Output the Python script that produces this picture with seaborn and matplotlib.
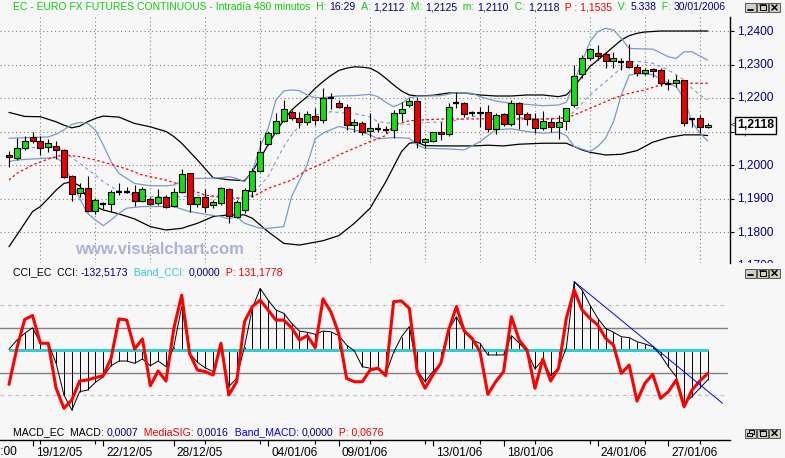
import numpy as np
import matplotlib
matplotlib.use("Agg")
import matplotlib.pyplot as plt
import seaborn as sns
from matplotlib.patches import Rectangle
from matplotlib.transforms import ScaledTranslation

# ---- candles (EC 480 min bars, 16/12/05 .. 30/01/06) ----
opens = [1.2030, 1.2022, 1.2050, 1.2085, 1.2073, 1.2053, 1.2058, 1.2045, 1.1966, 1.1915,
         1.1930, 1.1863, 1.1885, 1.1883, 1.1920, 1.1920, 1.1920, 1.1893, 1.1899, 1.1886,
         1.1904, 1.1879, 1.1918, 1.1975, 1.1883, 1.1904, 1.1881, 1.1886, 1.1928, 1.1846,
         1.1866, 1.1922, 1.1982, 1.2062, 1.2095, 1.2131, 1.2157, 1.2139, 1.2127, 1.2146,
         1.2133, 1.2199, 1.2184, 1.2172, 1.2119, 1.2124, 1.2102, 1.2107, 1.2105, 1.2105,
         1.2154, 1.2179, 1.2192, 1.2070, 1.2073, 1.2098, 1.2092, 1.2186, 1.2184, 1.2154,
         1.2154, 1.2159, 1.2108, 1.2151, 1.2121, 1.2184, 1.2152, 1.2137, 1.2109, 1.2127,
         1.2114, 1.2131, 1.2179, 1.2271, 1.2318, 1.2333, 1.2330, 1.2310, 1.2308, 1.2310,
         1.2292, 1.2274, 1.2287, 1.2284, 1.2241, 1.2244, 1.2254, 1.2137, 1.2139, 1.2112]
highs = [1.2042, 1.2081, 1.2087, 1.2100, 1.2088, 1.2078, 1.2072, 1.2047, 1.1970, 1.1945,
         1.1967, 1.1901, 1.1889, 1.1926, 1.1947, 1.1935, 1.1940, 1.1935, 1.1904, 1.1928,
         1.1910, 1.1930, 1.1987, 1.1977, 1.1905, 1.1928, 1.1895, 1.1935, 1.1932, 1.1895,
         1.1931, 1.1990, 1.2075, 1.2102, 1.2155, 1.2194, 1.2164, 1.2159, 1.2161, 1.2171,
         1.2231, 1.2214, 1.2194, 1.2181, 1.2137, 1.2131, 1.2154, 1.2126, 1.2117, 1.2164,
         1.2187, 1.2199, 1.2204, 1.2082, 1.2100, 1.2127, 1.2184, 1.2217, 1.2189, 1.2161,
         1.2174, 1.2179, 1.2154, 1.2154, 1.2194, 1.2187, 1.2159, 1.2154, 1.2162, 1.2141,
         1.2149, 1.2171, 1.2299, 1.2328, 1.2348, 1.2358, 1.2338, 1.2338, 1.2318, 1.2360,
         1.2302, 1.2289, 1.2291, 1.2289, 1.2257, 1.2269, 1.2254, 1.2139, 1.2149, 1.2125]
lows = [1.1995, 1.2015, 1.2045, 1.2065, 1.2030, 1.2038, 1.2018, 1.1960, 1.1894, 1.1905,
        1.1859, 1.1854, 1.1869, 1.1861, 1.1910, 1.1915, 1.1879, 1.1891, 1.1881, 1.1881,
        1.1873, 1.1876, 1.1915, 1.1859, 1.1876, 1.1861, 1.1871, 1.1881, 1.1826, 1.1841,
        1.1857, 1.1905, 1.1980, 1.2060, 1.2093, 1.2127, 1.2134, 1.2109, 1.2119, 1.2119,
        1.2124, 1.2167, 1.2169, 1.2104, 1.2100, 1.2090, 1.2085, 1.2098, 1.2095, 1.2082,
        1.2131, 1.2174, 1.2050, 1.2050, 1.2070, 1.2075, 1.2088, 1.2171, 1.2144, 1.2147,
        1.2114, 1.2098, 1.2092, 1.2117, 1.2117, 1.2107, 1.2119, 1.2095, 1.2104, 1.2098,
        1.2078, 1.2104, 1.2174, 1.2259, 1.2313, 1.2313, 1.2291, 1.2291, 1.2284, 1.2289,
        1.2267, 1.2269, 1.2264, 1.2237, 1.2224, 1.2234, 1.2117, 1.2114, 1.2095, 1.2110]
closes = [1.2024, 1.2050, 1.2073, 1.2073, 1.2050, 1.2065, 1.2045, 1.1965, 1.1912, 1.1930,
          1.1863, 1.1895, 1.1885, 1.1919, 1.1920, 1.1920, 1.1893, 1.1927, 1.1884, 1.1904,
          1.1876, 1.1920, 1.1972, 1.1884, 1.1904, 1.1876, 1.1889, 1.1930, 1.1848, 1.1889,
          1.1925, 1.1982, 1.2040, 1.2095, 1.2130, 1.2166, 1.2139, 1.2127, 1.2153, 1.2133,
          1.2199, 1.2199, 1.2172, 1.2119, 1.2127, 1.2098, 1.2110, 1.2107, 1.2105, 1.2154,
          1.2166, 1.2192, 1.2070, 1.2077, 1.2098, 1.2092, 1.2174, 1.2186, 1.2152, 1.2154,
          1.2159, 1.2108, 1.2149, 1.2121, 1.2184, 1.2151, 1.2136, 1.2109, 1.2132, 1.2114,
          1.2129, 1.2169, 1.2267, 1.2318, 1.2345, 1.2326, 1.2310, 1.2318, 1.2308, 1.2292,
          1.2274, 1.2284, 1.2281, 1.2244, 1.2241, 1.2253, 1.2124, 1.2137, 1.2112, 1.2118]

# ---- overlay bands, read at bar indices ----
ub_x = [0, 2, 4, 6, 7, 8, 9, 10, 11, 12, 14, 16, 18, 20, 21, 22, 24, 26, 28, 30,
        31, 32, 33, 34, 35, 36, 37, 38, 39, 40, 41, 42, 43, 44, 45, 46, 47, 48, 49, 50, 51, 52,
        54, 56, 58, 60, 62, 64, 66, 68, 70, 71, 72, 73, 74, 75, 76, 77, 78, 79, 80, 81, 83, 86, 89]
ub_y = [1.2157, 1.2145, 1.2144, 1.2129, 1.2119, 1.2111, 1.2116, 1.2129, 1.2139, 1.2146,
        1.2143, 1.2124, 1.2114, 1.2100, 1.2085, 1.2065, 1.2015, 1.1962, 1.1956, 1.1953,
        1.1980, 1.2020, 1.2060, 1.2100, 1.2134, 1.2164, 1.2185, 1.2204, 1.2229, 1.2249, 1.2267,
        1.2282, 1.2289, 1.2293, 1.2292, 1.2289, 1.2277, 1.2259, 1.2239, 1.2221, 1.2209, 1.2206,
        1.2208, 1.2215, 1.2215, 1.2209, 1.2206, 1.2206, 1.2209, 1.2209, 1.2204,
        1.2209, 1.2234, 1.2264, 1.2294, 1.2313, 1.2333, 1.2353, 1.2373, 1.2386, 1.2393, 1.2397,
        1.2400, 1.2400, 1.2400]
lb_x = [0, 1, 2, 3, 4, 5, 6, 7, 8, 9, 10, 11, 12, 14, 16, 18, 20, 22, 24, 26, 28, 30,
        31, 33, 35, 37, 40, 42, 44, 46, 48, 49, 50, 51, 52, 53, 55, 57, 59, 61, 63, 65, 68, 71,
        72, 73, 74, 76, 78, 80, 82, 84, 86, 88, 89]
lb_y = [1.1756, 1.1791, 1.1826, 1.1861, 1.1876, 1.1900, 1.1925, 1.1945, 1.1950, 1.1938, 1.1900,
        1.1876, 1.1866, 1.1854, 1.1839, 1.1816, 1.1806, 1.1811, 1.1826, 1.1846, 1.1851, 1.1851,
        1.1841, 1.1801, 1.1766, 1.1761, 1.1774, 1.1789, 1.1826, 1.1871, 1.1950, 1.1995, 1.2040,
        1.2065, 1.2068, 1.2058, 1.2057, 1.2057, 1.2057, 1.2059, 1.2057, 1.2062, 1.2065, 1.2065,
        1.2055, 1.2045, 1.2038, 1.2030, 1.2032, 1.2043, 1.2068, 1.2082, 1.2090, 1.2090, 1.2088]
bu_x = [0, 3, 5, 6, 7, 8, 9, 10, 11, 12, 13, 14, 15, 16, 18, 20, 21, 22, 23, 25,
        27, 28, 29, 30, 31, 32, 33, 34, 35, 36, 37, 38, 39, 40, 42, 44, 46, 47, 48, 49,
        50, 51, 52, 55, 57, 59, 60, 62, 64, 66, 68, 70, 71, 72, 73, 74, 75, 76, 77, 78,
        79, 80, 82, 84, 85, 86, 87, 89]
bu_y = [1.2080, 1.2082, 1.2084, 1.2092, 1.2105, 1.2121, 1.2127, 1.2124, 1.2105, 1.2060,
        1.2010, 1.1975, 1.1960, 1.1945, 1.1938, 1.1938, 1.1940, 1.1952, 1.1960, 1.1960,
        1.1962, 1.1965, 1.1960, 1.1950, 1.1980, 1.2055, 1.2109, 1.2194, 1.2221, 1.2224,
        1.2222, 1.2209, 1.2201, 1.2201, 1.2206, 1.2207, 1.2211, 1.2204, 1.2187, 1.2174,
        1.2184, 1.2201, 1.2205, 1.2207, 1.2216, 1.2214, 1.2204, 1.2191, 1.2184, 1.2181,
        1.2177, 1.2179, 1.2187, 1.2249, 1.2308, 1.2368, 1.2398, 1.2408, 1.2403, 1.2378,
        1.2348, 1.2347, 1.2346, 1.2323, 1.2318, 1.2338, 1.2338, 1.2313]
bl_x = [0, 1, 3, 6, 7, 8, 9, 10, 11, 12, 13, 14, 15, 17, 21, 23, 25, 27, 28, 29,
        30, 32, 33, 35, 36, 38, 39, 40, 42, 44, 46, 47, 49, 51, 52, 53, 56, 58, 60, 62,
        64, 66, 68, 70, 71, 72, 74, 75, 76, 77, 78, 79, 80, 82, 84, 85, 86, 87, 88, 89]
bl_y = [1.2010, 1.2015, 1.2018, 1.2022, 1.2005, 1.1950, 1.1900, 1.1856, 1.1836, 1.1819,
        1.1836, 1.1856, 1.1871, 1.1876, 1.1876, 1.1861, 1.1853, 1.1846, 1.1839, 1.1846,
        1.1826, 1.1811, 1.1811, 1.1816, 1.1906, 1.2002, 1.2078, 1.2095, 1.2115, 1.2105,
        1.2090, 1.2078, 1.2082, 1.2080, 1.2060, 1.2050, 1.2048, 1.2045, 1.2070, 1.2105,
        1.2108, 1.2100, 1.2095, 1.2098, 1.2088, 1.2055, 1.2040, 1.2055, 1.2080, 1.2129,
        1.2209, 1.2268, 1.2273, 1.2270, 1.2244, 1.2234, 1.2199, 1.2129, 1.2095, 1.2072]
bm_x = [0, 1, 3, 6, 7, 9, 11, 12, 14, 16, 18, 22, 24, 26, 28, 30, 31, 32, 33, 34,
        35, 36, 37, 39, 41, 42, 44, 46, 47, 49, 51, 53, 56, 58, 60, 62, 64, 66, 68, 70,
        71, 72, 73, 74, 75, 76, 77, 78, 79, 80, 82, 84, 85, 86, 87, 88, 89]
bm_y = [1.2020, 1.2045, 1.2052, 1.2055, 1.2040, 1.2005, 1.1970, 1.1950, 1.1922, 1.1910,
        1.1905, 1.1905, 1.1910, 1.1905, 1.1900, 1.1902, 1.1910, 1.1940, 1.1965, 1.2010,
        1.2055, 1.2090, 1.2117, 1.2149, 1.2159, 1.2157, 1.2153, 1.2144, 1.2129, 1.2124,
        1.2121, 1.2127, 1.2129, 1.2139, 1.2149, 1.2144, 1.2144, 1.2139, 1.2137, 1.2139,
        1.2144, 1.2159, 1.2184, 1.2209, 1.2229, 1.2249, 1.2269, 1.2289, 1.2309, 1.2309,
        1.2304, 1.2284, 1.2269, 1.2254, 1.2229, 1.2209, 1.2194]
ma_x = [0, 1, 3, 5, 6, 7, 9, 11, 13, 15, 17, 20, 22, 23, 25, 27, 28, 30, 31, 33,
        36, 38, 40, 42, 44, 46, 48, 49, 51, 53, 56, 58, 60, 62, 64, 66, 68, 71, 73, 75,
        77, 79, 81, 83, 85, 89]
ma_y = [1.1955, 1.1975, 1.2000, 1.2018, 1.2025, 1.2030, 1.2025, 1.2015, 1.2002, 1.1988,
        1.1970, 1.1955, 1.1940, 1.1928, 1.1910, 1.1905, 1.1900, 1.1902, 1.1905, 1.1930,
        1.1955, 1.1985, 1.2005, 1.2030, 1.2050, 1.2070, 1.2088, 1.2120, 1.2132, 1.2135,
        1.2138, 1.2137, 1.2138, 1.2137, 1.2137, 1.2138, 1.2137, 1.2140, 1.2159, 1.2179,
        1.2199, 1.2214, 1.2224, 1.2239, 1.2244, 1.2244]

# ---- CCI panel ----
cci = [4, 44, 74, 99, 30, 30, -59, -200, -267, -185,
       -178, -144, -119, -70, -49, -49, -59, -40, -70, -49,
       -74, 15, 193, -15, -55, -79, -96, 22, -163, -126,
       15, 185, 274, 222, 178, 163, 119, 84, 79, 70,
       84, 81, 64, 22, -4, -74, -81, -81, -107, -10,
       59, 104, -89, -141, -96, -59, 89, 148, 81, 44,
       30, -22, -22, -22, 64, 30, -7, -84, -44, -114,
       -81, 10, 304, 267, 200, 141, 96, 79, 59, 55,
       37, 27, 15, -22, -74, -119, -237, -207, -170, -133]
cci_p = [-153, 7, 136, 153, 30, 30, -170, -259, -222, -138,
         -133, -123, -114, -37, 138, 133, 4, 49, -159, -93,
         -138, 96, 244, -15, -89, -96, -111, 30, -200, -141,
         126, 193, 222, 178, 133, 133, 99, 44, 64, 10,
         227, 170, 74, -126, -141, -141, -89, -81, -114, 215,
         218, 185, -96, -170, -111, -59, 89, 193, 84, 52,
         -7, -197, -141, -96, 148, 44, 0, -170, -40, -138,
         -81, 141, 267, 178, 141, 111, 52, 22, -104, -67,
         -227, -148, -108, -215, -185, -133, -252, -178, -138, -104]
trend_x = [72, 90.9]
trend_y = [304, -237]

price_ticks = [1.17, 1.18, 1.19, 1.20, 1.21, 1.22, 1.23, 1.24]
date_idx = [3, 12, 21, 33, 42, 54, 63, 75, 84]
date_labels = ["19/12/05", "22/12/05", "28/12/05", "04/01/06", "09/01/06",
               "13/01/06", "18/01/06", "24/01/06", "27/01/06"]
minor_idx = [4, 11, 25, 32, 39, 46, 53, 60, 67, 74, 81, 88]
grid_cols = list(range(4, 90, 7))

BG = "#f7f7f7"
GREEN = "#11e011"
RED = "#ee0000"
NAVY = "#000080"
STEEL = "#7b9ac8"
CYAN = "#33cccc"
TGREEN = "#11cc11"

sns.set_theme(style="white")
plt.rcParams['font.family'] = ['Liberation Sans', 'DejaVu Sans']

W, H = 785, 458
fig = plt.figure(figsize=(W / 100, H / 100), dpi=100)
fig.patch.set_facecolor(BG)


def px_box(x0, y0, x1, y1):
    return [x0 / W, 1 - y1 / H, (x1 - x0) / W, (y1 - y0) / H]


STEP, X0 = 7.85, 9          # bar spacing / first bar, in pixels
def price_at(y):            # pixel row -> price (33.5 px per 0.01)
    return 1.24 - (y - 31) / 3350


idx = np.arange(len(closes))
o, h, l, c = map(np.array, (opens, highs, lows, closes))

# ---------------- main price panel ----------------
ax = fig.add_axes(px_box(0, 17, 730, 263))
ax.set_facecolor(BG)
ax.set_xlim(-X0 / STEP, (730 - X0) / STEP)
ax.set_ylim(price_at(263), price_at(17))
for s in ax.spines.values():
    s.set_visible(False)
ax.set_xticks([])
ax.set_yticks([])

ax.hlines(price_ticks, -X0 / STEP, (730 - X0) / STEP, color="#808080", lw=0.8,
          linestyles=(0, (1, 2.5)), zorder=1)
ax.vlines(grid_cols, price_at(263), price_at(17), color="#808080", lw=0.8,
          linestyles=(0, (1, 2.5)), zorder=1)

sns.lineplot(x=ub_x, y=ub_y, ax=ax, color="black", lw=0.9, zorder=2)
sns.lineplot(x=lb_x, y=lb_y, ax=ax, color="black", lw=0.9, zorder=2)
sns.lineplot(x=bu_x, y=bu_y, ax=ax, color=STEEL, lw=0.9, zorder=2)
sns.lineplot(x=bl_x, y=bl_y, ax=ax, color=STEEL, lw=0.9, zorder=2)
sns.lineplot(x=bm_x, y=bm_y, ax=ax, color=STEEL, lw=0.8, linestyle=(0, (3, 3)), zorder=2)
sns.lineplot(x=ma_x, y=ma_y, ax=ax, color="#ff0000", lw=0.9, linestyle=(0, (2, 2)), zorder=2)

up, down, flat = c > o, c < o, c == o
bw = 6 / STEP
ax.vlines(idx, l, h, color="black", lw=0.8, zorder=3)
ax.bar(idx[up], (c - o)[up], bottom=o[up], width=bw, color=GREEN,
       edgecolor="black", lw=0.8, zorder=4)
ax.bar(idx[down], (c - o)[down], bottom=o[down], width=bw, color=RED,
       edgecolor="black", lw=0.8, zorder=4)
ax.hlines(c[flat], idx[flat] - bw / 2, idx[flat] + bw / 2, color="black", lw=1.6, zorder=4)
ax.set_xlabel("")
ax.set_ylabel("")

# right price scale
axr = fig.add_axes(px_box(730, 17, 785, 263))
axr.set_facecolor("none")
axr.set_ylim(ax.get_ylim())
axr.set_xlim(0, 1)
for k, s in axr.spines.items():
    s.set_visible(k == "left")
axr.spines["left"].set_color("black")
axr.spines["left"].set_linewidth(1)
axr.set_xticks([])
axr.set_yticks([p for p in price_ticks if p > price_at(263)])
axr.tick_params(axis="y", left=True, direction="in", length=3, width=0.8,
                labelleft=False, color="black")
for p in price_ticks:
    axr.text(7 / 55, p, f"{p:.4f}".replace(".", ","), color=NAVY, fontsize=8.6,
             va="center", ha="left", clip_on=True)
axr.text(7 / 55, c[-1], f"{c[-1]:.4f}".replace(".", ","), color="black", fontsize=8.8,
         fontweight="bold", va="center", ha="left", zorder=5,
         bbox=dict(boxstyle="square,pad=0.18", fc="white", ec="black", lw=1))
axr.text(1 / 55, c[-1], "<", color="black", fontsize=5.5, va="center", ha="left")

# ---------------- CCI panel ----------------
def cci_at(y):
    return (350 - y) / 0.225


axc = fig.add_axes(px_box(0, 265, 730, 440))
axc.set_facecolor(BG)
axc.set_xlim(-X0 / STEP, (730 - X0) / STEP)
axc.set_ylim(cci_at(440), cci_at(265))
for k, s in axc.spines.items():
    s.set_visible(k == "bottom")
axc.spines["bottom"].set_color("black")
axc.spines["bottom"].set_linewidth(1)
axc.set_yticks([])

for lvl in (100, -100):
    axc.axhline(lvl, xmin=0, xmax=727 / 730, color="#808080", lw=1, zorder=1)
for lvl in (200, -200):
    axc.axhline(lvl, xmin=0, xmax=727 / 730, color="#c0c0c0", lw=0.9,
                linestyle=(0, (3, 3)), zorder=1)
axc.vlines(idx, 0, cci, color="black", lw=0.7, zorder=2)
axc.hlines(0, idx[0], idx[-1], color=CYAN, lw=2.2, zorder=3)
sns.lineplot(x=idx, y=cci, ax=axc, color="black", lw=0.7, zorder=4)
sns.lineplot(x=idx, y=cci_p, ax=axc, color="#ff0000", lw=2.2, zorder=5)
sns.lineplot(x=trend_x, y=trend_y, ax=axc, color="#0000ff", lw=0.7, zorder=6)
axc.set_xlabel("")
axc.set_ylabel("")

axc.set_xticks(date_idx)
axc.set_xticklabels(date_labels, ha="left", fontsize=8.6, color="black")
axc.set_xticks(minor_idx, minor=True)
axc.tick_params(axis="x", which="major", bottom=True, length=4.3, width=0.8,
                direction="out", pad=1, color="black")
axc.tick_params(axis="x", which="minor", bottom=True, length=2.9, width=0.8,
                direction="out", color="black")
for lbl in axc.get_xticklabels():
    lbl.set_transform(lbl.get_transform() + ScaledTranslation(0.03, 0, fig.dpi_scale_trans))

# ---------------- overlay texts / window buttons ----------------
ov = fig.add_axes([0, 0, 1, 1], zorder=10)
ov.set_xlim(0, W)
ov.set_ylim(H, 0)
ov.axis("off")

renderer = fig.canvas.get_renderer()


def rich_text(x, y, parts, size):
    for s, col in parts:
        t = ov.text(x, y, s, color=col, fontsize=size, va="center", ha="left")
        x += t.get_window_extent(renderer).width


fmt = lambda v: f"{v:.4f}".replace(".", ",")
rich_text(13, 7.5, [("EC - EURO FX FUTURES CONTINUOUS - Intradía 480 minutos  H: ", TGREEN),
                    ("16:29", NAVY), ("  A: ", TGREEN), (fmt(o[-1]), NAVY),
                    ("  M: ", TGREEN), (fmt(h[-1]), NAVY), ("  m: ", TGREEN), (fmt(l[-1]), NAVY),
                    ("  C: ", TGREEN), (fmt(c[-1]), NAVY), ("  P : 1,1535", RED),
                    ("  V: ", TGREEN), ("5.338", NAVY), ("  F: ", TGREEN), ("30/01/2006", NAVY)], 7.5)
rich_text(13, 272.5, [("CCI_EC  CCI: ", "black"), ("-132,5173", NAVY), ("  Band_CCI: ", CYAN),
                      ("0,0000", NAVY), ("  P: 131,1778", RED)], 7.6)
rich_text(13, 432.5, [("MACD_EC  MACD: ", "black"), ("0,0007", NAVY), ("  MediaSIG: ", RED),
                      ("0,0016", NAVY), ("  Band_MACD: ", "#0000ff"), ("0,0000", NAVY),
                      ("  P: 0,0676", RED)], 7.6)
ov.text(75, 249, "www.visualchart.com", color="#aab2d6", fontsize=12, fontweight="bold",
        va="center", ha="left")
ov.text(17, 452, "16:00", color="black", fontsize=8.6, va="center", ha="right")


def button(x, y, kind):
    ov.add_patch(Rectangle((x, y), 11, 9, fc="#d4d0c8", ec="#404040", lw=0.6))
    if kind == "min":
        ov.plot([x + 3, x + 7.5], [y + 6.8, y + 6.8], color="black", lw=1.3)
    elif kind == "max":
        ov.add_patch(Rectangle((x + 2.5, y + 2), 6, 5, fill=False, ec="black", lw=0.7))
        ov.plot([x + 2.5, x + 8.5], [y + 2.3, y + 2.3], color="black", lw=1.1)
    elif kind == "restore":
        ov.add_patch(Rectangle((x + 4, y + 1.5), 4.5, 3.5, fill=False, ec="black", lw=0.7))
        ov.add_patch(Rectangle((x + 2, y + 4), 4.5, 3.5, fc="#d4d0c8", ec="black", lw=0.7))
    else:
        ov.plot([x + 3, x + 8], [y + 2, y + 7], color="black", lw=1.1)
        ov.plot([x + 3, x + 8], [y + 7, y + 2], color="black", lw=1.1)


for y0, kinds in ((3, ("min", "max", "close")), (268.5, ("min", "max", "close")),
                  (428.5, ("restore", "max", "close"))):
    for i, kd in enumerate(kinds):
        button(745 + 12 * i, y0, kd)

fig.savefig("out.png", dpi=100, facecolor=BG)
